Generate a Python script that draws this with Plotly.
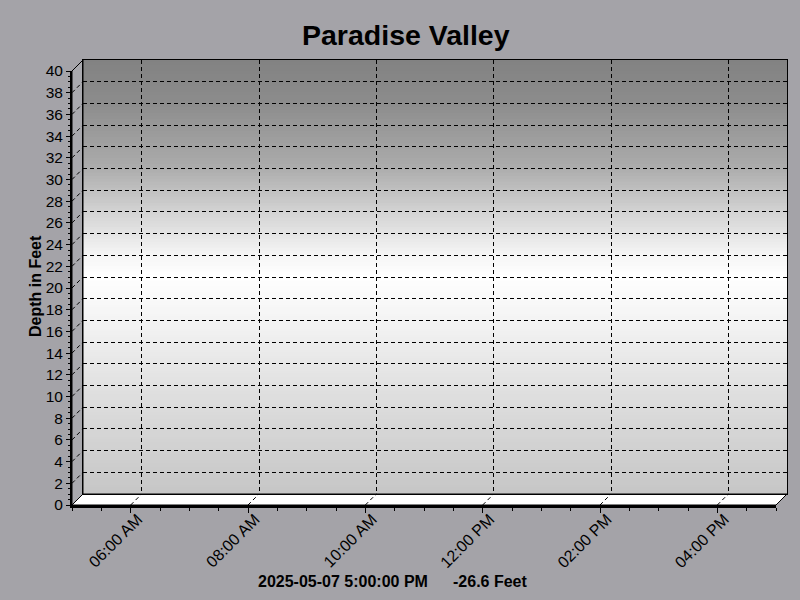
import plotly.graph_objects as go

# ---- data ----
station = "Paradise Valley"
times = ["2025-05-07 17:00:00"]
depth_ft = [-26.6]
x_range = ["2025-05-07 05:00:00", "2025-05-07 17:00:00"]
y_range = [0, 40]
y_title = "Depth in Feet"
last_label = "2025-05-07 5:00:00 PM"
last_value = f"{depth_ft[-1]:.1f} Feet"

W, H = 800, 600
FONT = "Liberation Sans, Arial, sans-serif"
BG = "#a4a3a8"
DEPTH = 11  # 3D offset in px


def px_x(p):
    return p / W


def px_y(p):
    return 1 - p / H


fig = go.Figure()
fig.add_trace(go.Scatter(x=times, y=depth_ft, mode="lines+markers",
                         line=dict(color="#0000cc", width=2), xaxis="x", yaxis="y",
                         showlegend=False, cliponaxis=True))
# invisible trace to create back-wall axes
fig.add_trace(go.Scatter(x=x_range, y=y_range, mode="markers", marker=dict(opacity=0),
                         xaxis="x2", yaxis="y2", showlegend=False, hoverinfo="skip"))

fx0, fx1, fy0, fy1 = 72, 776, 505, 71       # front axes pixel box
bx0, bx1, by0, by1 = fx0 + DEPTH, fx1 + DEPTH, fy0 - DEPTH, fy1 - DEPTH

fig.update_layout(
    width=W, height=H,
    margin=dict(l=0, r=0, t=0, b=0),
    paper_bgcolor=BG, plot_bgcolor="rgba(0,0,0,0)",
    showlegend=False,
    xaxis=dict(domain=[px_x(fx0), px_x(fx1)], range=x_range, type="date",
               anchor="y", automargin=False,
               dtick=2 * 3600 * 1000, tickformat="%I:%M %p", tickangle=-45,
               ticklabelshift=7, ticklabelstandoff=-9,
               ticks="outside", ticklen=5, tickwidth=1, tickcolor="black",
               minor=dict(dtick=1800 * 1000, ticks="outside", ticklen=3, tickcolor="black"),
               showline=True, linecolor="black", linewidth=2.5,
               showgrid=False, zeroline=False,
               tickfont=dict(family=FONT, size=16, color="black")),
    yaxis=dict(domain=[px_y(fy0), px_y(fy1)], range=y_range, anchor="x",
               automargin=False, dtick=2,
               ticks="outside", ticklen=4, tickwidth=1, tickcolor="black",
               minor=dict(dtick=0.5, ticks="outside", ticklen=2, tickcolor="black"),
               showline=True, linecolor="black", linewidth=2,
               showgrid=False, zeroline=False,
               tickfont=dict(family=FONT, size=15.5, color="black")),
    xaxis2=dict(domain=[px_x(bx0), px_x(bx1)], range=x_range, type="date",
                anchor="y2", automargin=False, dtick=2 * 3600 * 1000,
                showticklabels=False, ticks="",
                showgrid=True, gridcolor="black", gridwidth=1, griddash="4px,3px",
                showline=True, linecolor="black", linewidth=1, mirror=True, zeroline=False),
    yaxis2=dict(domain=[px_y(by0), px_y(by1)], range=y_range, anchor="x2",
                automargin=False, dtick=2, showticklabels=False, ticks="",
                showgrid=True, gridcolor="black", gridwidth=1, griddash="4px,3px",
                showline=True, linecolor="black", linewidth=1, mirror=True, zeroline=False),
)

# back wall vertical gradient (styling)
stops = [(0.0, 130), (0.1, 140), (0.25, 172), (0.35, 210), (0.45, 245), (0.5, 255),
         (0.58, 246), (0.78, 222), (1.0, 198)]


def shade(t):
    for (a, ca), (b, cb) in zip(stops[:-1], stops[1:]):
        if a <= t <= b:
            return round(ca + (cb - ca) * (t - a) / (b - a))
    return stops[-1][1]


N = 145
shapes = []
for i in range(N):
    t0, t1 = i / N, (i + 1) / N
    c = shade((t0 + t1) / 2)
    shapes.append(dict(type="rect", xref="x2 domain", yref="y2 domain",
                       x0=0, x1=1, y0=1 - t1, y1=1 - t0 + 0.002,
                       fillcolor=f"rgb({c},{c},{c})", line=dict(width=0), layer="below"))


def path(pts):
    return "M " + " L ".join(f"{px_x(x)},{px_y(y)}" for x, y in pts) + " Z"


# side wall and floor (paper coordinates)
shapes.append(dict(type="path", xref="paper", yref="paper",
                   path=path([(fx0, fy0), (fx0, fy1), (bx0, by1), (bx0, by0)]),
                   fillcolor="#a9a9ae", line=dict(color="black", width=1), layer="below"))
shapes.append(dict(type="path", xref="paper", yref="paper",
                   path=path([(fx0, fy0), (bx0, by0), (bx1, by0), (fx1, fy0)]),
                   fillcolor="white", line=dict(color="black", width=1), layer="below"))

# dashed diagonals on side wall (per y gridline) and floor (per x gridline)
for v in range(y_range[0] + 2, y_range[1], 2):
    shapes.append(dict(type="line", xref="x", yref="y", xsizemode="pixel", ysizemode="pixel",
                       xanchor=x_range[0], yanchor=v, x0=0, x1=DEPTH, y0=0, y1=DEPTH,
                       line=dict(color="black", width=1, dash="4px,3px"), layer="above"))
for h in ["06", "08", "10", "12", "14", "16"]:
    shapes.append(dict(type="line", xref="x", yref="y", xsizemode="pixel", ysizemode="pixel",
                       xanchor=f"2025-05-07 {h}:00:00", yanchor=y_range[0],
                       x0=0, x1=DEPTH, y0=0, y1=DEPTH,
                       line=dict(color="black", width=1, dash="4px,3px"), layer="above"))
fig.update_layout(shapes=shapes)

fig.add_annotation(text=f"<b>{station}</b>", xref="paper", yref="paper",
                   x=px_x(406), y=px_y(35), xanchor="center", yanchor="middle",
                   showarrow=False, font=dict(family=FONT, size=28.5, color="black"))
fig.add_annotation(text=f"<b>{y_title}</b>", xref="paper", yref="paper",
                   x=px_x(35), y=px_y(286), xanchor="center", yanchor="middle",
                   textangle=-90, showarrow=False,
                   font=dict(family=FONT, size=16, color="black"))
fig.add_annotation(text=f"<b>{last_label}</b>", xref="paper", yref="paper",
                   x=px_x(256), y=px_y(581), xanchor="left", yanchor="middle", showarrow=False,
                   font=dict(family=FONT, size=16, color="black"))
fig.add_annotation(text=f"<b>{last_value}</b>", xref="paper", yref="paper",
                   x=px_x(451), y=px_y(581), xanchor="left", yanchor="middle", showarrow=False,
                   font=dict(family=FONT, size=16, color="black"))

fig.write_html("out.html", config={"displayModeBar": False},
               post_script="document.body.style.margin='0';")
